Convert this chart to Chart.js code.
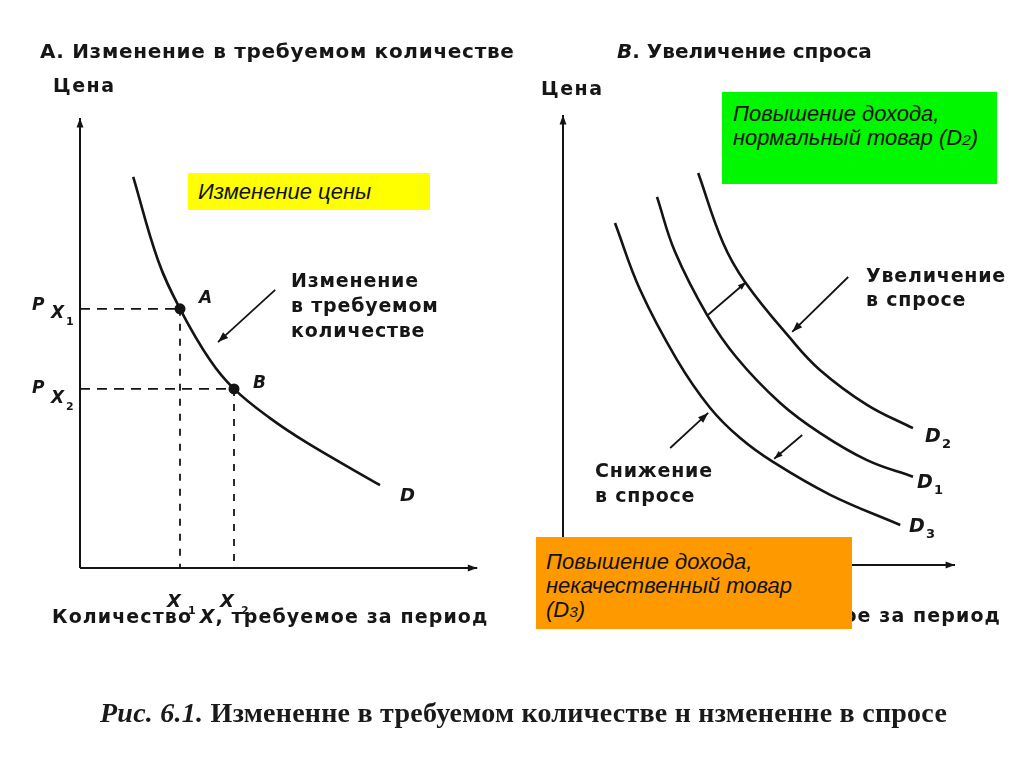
<!DOCTYPE html>
<html>
<head>
<meta charset="utf-8">
<script src="https://cdn.jsdelivr.net/npm/chart.js@4.4.1/dist/chart.umd.min.js"></script>
<style>
  body { margin: 0; background: #fff; }
  #page { position: relative; width: 1024px; height: 767px; overflow: hidden; color: #161616;
          font-family: "DejaVu Sans", sans-serif; }
  canvas { position: absolute; top: 0; }
  .t { position: absolute; white-space: nowrap; line-height: 1; font-weight: bold; }
  .lbl { font-size: 19px; letter-spacing: 0.8px; }
  .axt { font-size: 19px; letter-spacing: 1.1px; }
  .it { font-style: italic; }
  .box { position: absolute; font-family: "Liberation Sans", Arial, sans-serif; font-style: italic;
         font-size: 22px; color: #111; box-sizing: border-box; white-space: nowrap; }
  .box small { font-size: 0.7em; }
  .cap { position: absolute; white-space: nowrap; line-height: 1; font-family: "Liberation Serif", serif;
         font-weight: bold; font-size: 28px; letter-spacing: 0.25px; color: #1a1a1a; }
  .sub { font-size: 11px; }
</style>
</head>
<body>
<div id="page">
  <canvas id="chartA" width="512" height="767" style="left:0"></canvas>
  <canvas id="chartB" width="512" height="767" style="left:512px"></canvas>

  <!-- panel A texts -->
  <div class="t" style="left:40px;top:41px;font-size:20px;letter-spacing:0.7px">А. Изменение в требуемом количестве</div>
  <div class="t" style="left:53px;top:76px;font-size:19px;letter-spacing:1.5px">Цена</div>
  <div class="t lbl" style="left:291px;top:271px">Изменение</div>
  <div class="t lbl" style="left:291px;top:296px">в требуемом</div>
  <div class="t lbl" style="left:291px;top:321px">количестве</div>
  <div class="t it" style="left:199px;top:289px;font-size:17px">A</div>
  <div class="t it" style="left:253px;top:374px;font-size:17px">B</div>
  <div class="t it" style="left:400px;top:486px;font-size:18px">D</div>
  <div class="t it" style="left:32px;top:296px;font-size:17px">P</div>
  <div class="t it" style="left:51px;top:304px;font-size:17px">X</div>
  <div class="t sub" style="left:66px;top:316px">1</div>
  <div class="t it" style="left:32px;top:379px;font-size:17px">P</div>
  <div class="t it" style="left:51px;top:389px;font-size:17px">X</div>
  <div class="t sub" style="left:66px;top:401px">2</div>
  <div class="t it" style="left:167px;top:592px;font-size:18px">X</div>
  <div class="t sub" style="left:188px;top:605px">1</div>
  <div class="t it" style="left:220px;top:592px;font-size:18px">X</div>
  <div class="t sub" style="left:241px;top:605px">2</div>
  <div class="t axt" style="left:52px;top:607px">Количество <i>X</i>, требуемое за период</div>

  <!-- panel B texts -->
  <div class="t" style="left:617px;top:41px;font-size:20px"><i>В</i>. Увеличение спроса</div>
  <div class="t" style="left:541px;top:79px;font-size:19px;letter-spacing:1.5px">Цена</div>
  <div class="t lbl" style="left:866px;top:266px">Увеличение</div>
  <div class="t lbl" style="left:866px;top:290px">в спросе</div>
  <div class="t lbl" style="left:595px;top:461px">Снижение</div>
  <div class="t lbl" style="left:595px;top:486px">в спросе</div>
  <div class="t it" style="left:925px;top:426px;font-size:19px">D</div>
  <div class="t sub" style="left:942px;top:437px;font-size:13px">2</div>
  <div class="t it" style="left:917px;top:472px;font-size:19px">D</div>
  <div class="t sub" style="left:934px;top:483px;font-size:13px">1</div>
  <div class="t it" style="left:909px;top:516px;font-size:19px">D</div>
  <div class="t sub" style="left:926px;top:527px;font-size:13px">3</div>
  <div class="t axt" style="right:23px;top:606px">Количество <i>X</i>, требуемое за период</div>

  <!-- coloured notes -->
  <div class="box" style="left:188px;top:173px;width:242px;height:37px;background:#ffff00;line-height:37px;padding-left:10px">Изменение цены</div>
  <div class="box" style="left:722px;top:92px;width:275px;height:92px;background:#00f700;line-height:24px;padding:10px 0 0 11px">Повышение дохода,<br>нормальный товар (D<small>2</small>)</div>
  <div class="box" style="left:536px;top:537px;width:316px;height:92px;background:#ff9900;line-height:24px;padding:13px 0 0 10px">Повышение дохода,<br>некачественный товар<br>(D<small>3</small>)</div>

  <div class="cap" style="left:100px;top:699px"><i>Рис. 6.1.</i> Измененне в требуемом количестве н нзмененне в спросе</div>
</div>

<script>
// ---- panel A: movement along the demand curve ----
const dQty   = [1.33, 1.95, 2.50, 3.25, 3.85, 4.75, 5.68, 7.50];
const dPrice = [8.69, 6.84, 5.76, 4.62, 3.98, 3.33, 2.78, 1.84];
const pointA = [2.50, 5.76];
const pointB = [3.85, 3.98];
const arrowMoveA = [[4.88, 6.18], [3.45, 5.02]];
const axisTipA = [9.93, 10];

// ---- panel B: shifts of demand ----
const d2Qty   = [3.38, 4.00, 4.55, 5.68, 6.43, 7.60, 8.75];
const d2Price = [8.71, 7.16, 6.29, 5.04, 4.33, 3.56, 3.04];
const d1Qty   = [2.35, 2.80, 3.60, 4.35, 5.43, 6.43, 7.60, 8.75];
const d1Price = [8.18, 6.96, 5.56, 4.60, 3.60, 2.93, 2.33, 1.96];
const d3Qty   = [1.30, 1.93, 2.85, 3.68, 4.43, 5.25, 6.68, 8.43];
const d3Price = [7.60, 6.11, 4.56, 3.49, 2.82, 2.29, 1.56, 0.89];
const shiftUp   = [[3.63, 5.56], [4.58, 6.29]];
const shiftDown = [[5.98, 2.89], [5.28, 2.36]];
const arrowIncrease = [[7.13, 6.40], [5.73, 5.18]];
const arrowDecrease = [[2.68, 2.60], [3.63, 3.38]];
const axisTipB = [9.8, 10];

const ink = '#141414';
const toPts = (xs, ys) => xs.map((x, i) => ({ x, y: ys[i] }));
const pairPts = p => p.map(([x, y]) => ({ x, y }));

// draws a filled head at the last point of datasets marked with `arrow`
const arrowHeads = {
  id: 'arrowHeads',
  afterDatasetsDraw(chart) {
    const ctx = chart.ctx;
    chart.data.datasets.forEach((ds, i) => {
      if (!ds.arrow) return;
      const pts = chart.getDatasetMeta(i).data;
      const a = pts[pts.length - 2], b = pts[pts.length - 1];
      const ang = Math.atan2(b.y - a.y, b.x - a.x);
      const L = ds.arrow, w = 0.35;
      ctx.save();
      ctx.fillStyle = ink;
      ctx.beginPath();
      ctx.moveTo(b.x, b.y);
      ctx.lineTo(b.x - L * Math.cos(ang - w), b.y - L * Math.sin(ang - w));
      ctx.lineTo(b.x - L * Math.cos(ang + w), b.y - L * Math.sin(ang + w));
      ctx.closePath();
      ctx.fill();
      ctx.restore();
    });
  }
};

function curve(pts, width) {
  return { data: pts, showLine: true, pointRadius: 0, borderColor: ink, borderWidth: width, tension: 0.4 };
}
function segment(pts, width, head, dash) {
  return { data: pts, showLine: true, pointRadius: 0, borderColor: ink, borderWidth: width,
           tension: 0, arrow: head, borderDash: dash || [] };
}
function axes(tip) {
  return [
    segment([{ x: 0, y: 0 }, { x: 0, y: tip[1] }], 2, 10),
    segment([{ x: 0, y: 0 }, { x: tip[0], y: 0 }], 2, 10)
  ];
}

function makeChart(id, datasets, padding) {
  return new Chart(document.getElementById(id), {
    type: 'scatter',
    data: { datasets },
    options: {
      responsive: false,
      animation: false,
      events: [],
      clip: false,
      layout: { padding },
      plugins: { legend: { display: false }, tooltip: { enabled: false } },
      scales: {
        x: { type: 'linear', min: 0, max: 10, display: false },
        y: { type: 'linear', min: 0, max: 10, display: false }
      }
    },
    plugins: [arrowHeads]
  });
}

const dashH = [10, 7];
const dashV = [7, 8];
makeChart('chartA', [
  ...axes(axisTipA),
  segment([{ x: 0, y: pointA[1] }, { x: pointA[0], y: pointA[1] }], 1.8, 0, dashH),
  segment([{ x: pointA[0], y: pointA[1] }, { x: pointA[0], y: 0 }], 1.8, 0, dashV),
  segment([{ x: 0, y: pointB[1] }, { x: pointB[0], y: pointB[1] }], 1.8, 0, dashH),
  segment([{ x: pointB[0], y: pointB[1] }, { x: pointB[0], y: 0 }], 1.8, 0, dashV),
  curve(toPts(dQty, dPrice), 2.6),
  segment(pairPts(arrowMoveA), 1.8, 11),
  { data: [{ x: pointA[0], y: pointA[1] }, { x: pointB[0], y: pointB[1] }], showLine: false,
    pointRadius: 5.5, pointBackgroundColor: ink, pointBorderWidth: 0 }
], { left: 80, top: 118, right: 32, bottom: 199 });

makeChart('chartB', [
  ...axes(axisTipB),
  curve(toPts(d2Qty, d2Price), 2.6),
  curve(toPts(d1Qty, d1Price), 2.6),
  curve(toPts(d3Qty, d3Price), 2.6),
  segment(pairPts(shiftUp), 1.8, 9),
  segment(pairPts(shiftDown), 1.8, 9),
  segment(pairPts(arrowIncrease), 1.8, 11),
  segment(pairPts(arrowDecrease), 1.8, 11)
], { left: 51, top: 115, right: 61, bottom: 202 });
</script>
</body>
</html>
